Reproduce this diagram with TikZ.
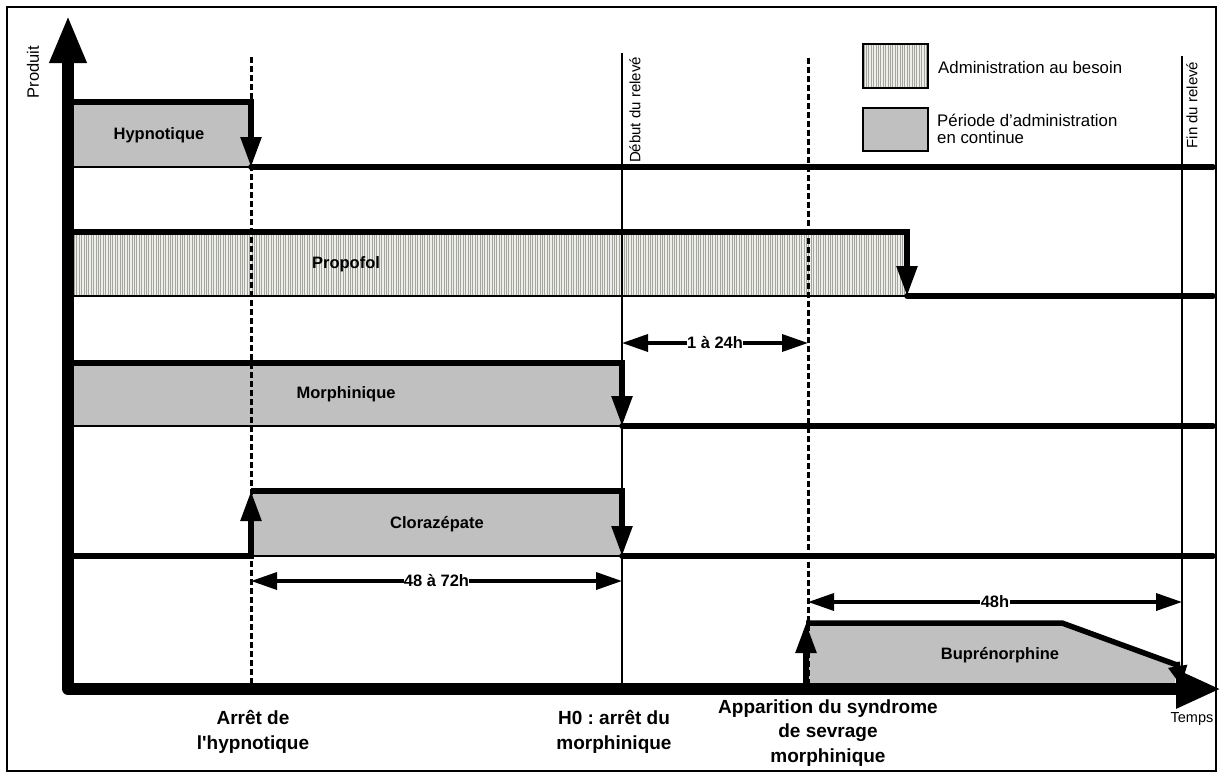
\documentclass[tikz,border=0pt]{standalone}
\usepackage{fontspec}
\setmainfont{Liberation Sans}
\newfontfamily\arialx{Liberation Sans}
\usetikzlibrary{arrows.meta,patterns.meta}
\definecolor{boxgray}{RGB}{192,192,192}
\definecolor{hatchbg}{RGB}{238,238,234}
\definecolor{hatchline}{RGB}{165,165,160}
\frenchspacing
\begin{document}
\begin{tikzpicture}[x=1pt,y=-1pt,
  state/.style={line width=5.5pt, line join=miter},
  steptip/.style={-{Triangle[length=30pt,width=20pt]}},
  thinline/.style={line width=1.2pt},
  dashv/.style={line width=3pt, dash pattern=on 6pt off 3pt},
  solidv/.style={line width=2.4pt},
  dimline/.style={line width=3.5pt, {Triangle[length=26pt,width=17pt]}-{Triangle[length=26pt,width=17pt]}},
  dimlabel/.style={fill=white, inner sep=0.4pt, font=\arialx\fontsize{16.5}{18}\selectfont\bfseries},
  boxlabel/.style={font=\arialx\fontsize{16.5}{18}\selectfont\bfseries},
  botlabel/.style={font=\arialx\fontsize{19}{24.5}\selectfont\bfseries, align=center},
  legendtext/.style={font=\arialx\fontsize{16.8}{17.5}\selectfont, align=left, anchor=west, inner sep=0pt},
  rotlabel/.style={font=\arialx\fontsize{15}{15}\selectfont, rotate=90, inner sep=0pt},
  contfill/.style={fill=boxgray},
  hatchbase/.style={fill=hatchbg},
  hatchfill/.style={pattern={Lines[angle=90,distance=2.4pt,line width=0.8pt]}, pattern color=hatchline},
  axis/.style={line width=12pt, line join=round, {Triangle[length=48pt,width=34pt]}-{Triangle[length=45pt,width=36pt]}}
]
\useasboundingbox (0,0) rectangle (1222,776);
% frame
\draw[line width=2pt] (7,7) rectangle (1216,771);

% ---------- fills ----------
\fill[contfill] (74,102) rectangle (251,167);
\fill[hatchbase] (74,232) rectangle (907,296);
\fill[hatchfill] (74,232) rectangle (907,296);
\fill[contfill] (74,363) rectangle (622,426);
\fill[contfill] (251,491) rectangle (622,556);
\fill[contfill] (808,623) -- (1062,623) -- (1177,665) -- (1175,683) -- (808,683) -- cycle;

% thin bottom lines
\draw[thinline] (74,167) -- (251,167);
\draw[thinline] (74,296) -- (907,296);
\draw[thinline] (74,426) -- (622,426);
\draw[thinline] (251,556) -- (622,556);

% ---------- vertical reference lines ----------
\coordinate (dashAtop) at (251,57);
\coordinate (dashAbot) at (251,683);
\coordinate (debTop) at (622,53);
\coordinate (debBot) at (622,684);
\coordinate (dashBtop) at (808,58);
\coordinate (dashBbot) at (808,683);
\coordinate (finTop) at (1182,56);
\coordinate (finBot) at (1182,684);
\draw[dashv] (dashAtop) -- (dashAbot);
\draw[solidv] (debTop) -- (debBot);
\draw[dashv] (dashBtop) -- (dashBbot);
\draw[solidv] (finTop) -- (finBot);

\node[rotlabel] (debut) at (635,110) {Début du relevé};
\node[rotlabel] (fin) at (1192,105) {Fin du relevé};

% ---------- state lines ----------
% Hypnotique
\coordinate (h0) at (68,102);
\coordinate (h1) at (251,102);
\coordinate (h2) at (251,167);
\coordinate (h3) at (1213,167);
\draw[state, steptip] (h0) -- (h1) -- (h2);
\draw[state, line cap=round] (h2) -- (h3);
% Propofol
\coordinate (p0) at (68,232);
\coordinate (p1) at (907,232);
\coordinate (p2) at (907,296);
\coordinate (p3) at (1213,296);
\draw[state, steptip] (p0) -- (p1) -- (p2);
\draw[state, line cap=round] (p2) -- (p3);
% Morphinique
\coordinate (m0) at (68,363);
\coordinate (m1) at (622,363);
\coordinate (m2) at (622,426);
\coordinate (m3) at (1213,426);
\draw[state, steptip] (m0) -- (m1) -- (m2);
\draw[state, line cap=round] (m2) -- (m3);
% Clorazepate
\coordinate (c0) at (68,556);
\coordinate (c1) at (251,556);
\coordinate (c2) at (251,491);
\coordinate (c3) at (622,491);
\coordinate (c4) at (622,556);
\coordinate (c5) at (1213,556);
\draw[state, steptip] (c0) -- (c1) -- (c2);
\draw[state, steptip] (c2) -- (c3) -- (c4);
\draw[state, line cap=round] (c4) -- (c5);
% Buprenorphine
\coordinate (b0) at (806,684);
\coordinate (b1) at (806,623);
\coordinate (b2) at (1062,623);
\coordinate (b3) at (1177,665);
\coordinate (b4) at (1181,686);
\draw[state, steptip] (b0) -- (b1);
\draw[state] (b1) -- (b2) -- (b3);
\draw[state, -{Triangle[length=20pt,width=18pt]}] (1177,662) -- (b4);

% ---------- box labels ----------
\node[boxlabel] (hyp) at (159,135) {Hypnotique};
\node[boxlabel] (prop) at (346,264) {Propofol};
\node[boxlabel] (morph) at (346,394) {Morphinique};
\node[boxlabel] (cloraz) at (437,524) {Clorazépate};
\node[boxlabel] (bupre) at (1000,655) {Buprénorphine};

% ---------- dimension arrows ----------
\coordinate (d1a) at (251,581);
\coordinate (d1b) at (622,581);
\coordinate (d2a) at (622,343);
\coordinate (d2b) at (808,343);
\coordinate (d3a) at (808,602);
\coordinate (d3b) at (1182,602);
\draw[dimline] (d1a) -- node[dimlabel] (l4872) {48 à 72h} (d1b);
\draw[dimline] (d2a) -- node[dimlabel] (l124) {1 à 24h} (d2b);
\draw[dimline] (d3a) -- node[dimlabel] (l48) {48h} (d3b);

% ---------- axes ----------
\coordinate (ytop) at (68,15);
\coordinate (origin) at (68,689);
\coordinate (xend) at (1221,689);
\draw[axis] (ytop) -- (origin) -- (xend);
\node[rotlabel, font=\arialx\fontsize{16.5}{16.5}\selectfont] (produit) at (33,72) {Produit};
\node[font=\arialx\fontsize{14.5}{16}\selectfont] (temps) at (1192,719) {Temps};

% ---------- bottom labels ----------
\node[botlabel] (arret) at (253,732) {Arrêt de\\l'hypnotique};
\node[botlabel] (hzero) at (614,732) {H0 : arrêt du\\morphinique};
\node[botlabel] (appar) at (828,733) {Apparition du syndrome\\de sevrage\\morphinique};

% ---------- legend ----------
\fill[hatchbase] (863,44) rectangle (928,88);
\fill[hatchfill] (863,44) rectangle (928,88);
\draw[line width=1.2pt] (863,44) rectangle (928,88);
\node[legendtext] (leg1) at (938,67) {Administration au besoin};
\draw[line width=1.2pt, fill=boxgray] (863,108) rectangle (928,151);
\node[legendtext] (leg2) at (937,129) {Période d’administration\\en continue};
\end{tikzpicture}
\end{document}
